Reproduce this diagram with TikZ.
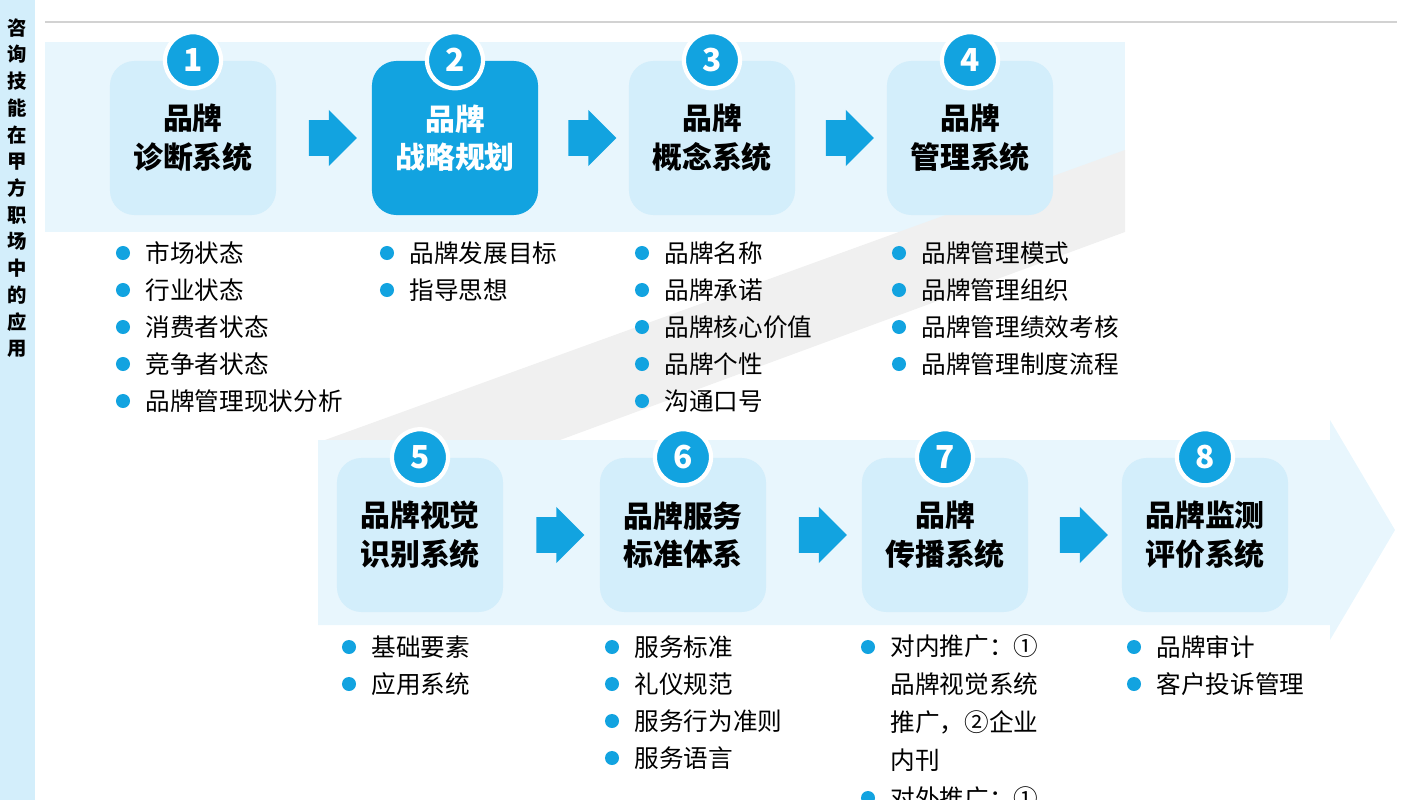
\documentclass[tikz,border=0pt]{standalone}
\usepackage{fontspec}
\setmainfont{Noto Sans CJK SC}
\usetikzlibrary{shapes.arrows, calc}
\definecolor{brandblue}{HTML}{12A3E0}
\definecolor{boxlight}{HTML}{D3EEFB}
\definecolor{bandlight}{HTML}{E8F6FD}

\tikzset{
  stage/.style={rounded corners=7pt, fill=boxlight, minimum width=1.66cm, minimum height=1.54cm,
    align=center, font=\fontsize{8.5}{11}\selectfont\bfseries, inner sep=0pt},
  stagedark/.style={stage, fill=brandblue, text=white},
  num/.style={circle, fill=brandblue, draw=white, line width=1.2pt, minimum size=0.56cm,
    text=white, font=\fontsize{9}{9}\selectfont\bfseries, inner sep=0pt},
  go/.style={single arrow, fill=brandblue, minimum height=0.48cm, minimum width=0.56cm,
    single arrow head extend=0.1cm, inner sep=0pt, text height=0.34cm, text width=0.18cm},
  item/.style={anchor=west, font=\fontsize{7}{9}\selectfont, inner sep=0pt},
  dot/.style={circle, fill=brandblue, minimum size=0.14cm, inner sep=0pt},
}

\begin{document}
\begin{tikzpicture}[x=0.01cm, y=-0.01cm]
\useasboundingbox (0,0) rectangle (1423,800);
\clip (0,0) rectangle (1423,800);

% side strip and top rule
\fill[boxlight] (0,0) rectangle (35,800);
\node[font=\fontsize{5.5}{7.6}\selectfont\bfseries, align=center, anchor=north] (side) at (17,6)
  {咨\\询\\技\\能\\在\\甲\\方\\职\\场\\中\\的\\应\\用};
\draw[gray!35, line width=0.6pt] (45,22) -- (1397,22);

% bands
\fill[bandlight] (45,42) rectangle (1125,232);
\fill[gray!12] (325,440) -- (560,440) -- (1125,232) -- (1125,150) -- cycle;
\fill[bandlight] (318,440) -- (1330,440) -- (1330,420) -- (1395,530) -- (1330,640) -- (1330,625) -- (318,625) -- cycle;

% top row
\node[stage] (s1) at (193,138) {品牌\\诊断系统};
\node[stagedark] (s2) at (455,138) {品牌\\战略规划};
\node[stage] (s3) at (712,138) {品牌\\概念系统};
\node[stage] (s4) at (970,138) {品牌\\管理系统};
% bottom row
\node[stage] (s5) at (420,535) {品牌视觉\\识别系统};
\node[stage] (s6) at (683,535) {品牌服务\\标准体系};
\node[stage] (s7) at (945,535) {品牌\\传播系统};
\node[stage] (s8) at (1205,535) {品牌监测\\评价系统};

\foreach \i in {1,...,8}
  \node[num] (n\i) at (s\i.north) {\i};

\foreach \a/\b in {s1/s2, s2/s3, s3/s4, s5/s6, s6/s7, s7/s8}
  \node[go] at ($(\a.east)!0.5!(\b.west)$) {};

% bullet lists
\foreach \x/\list in {123/{市场状态,行业状态,消费者状态,竞争者状态,品牌管理现状分析},
                     387/{品牌发展目标,指导思想},
                     642/{品牌名称,品牌承诺,品牌核心价值,品牌个性,沟通口号},
                     899/{品牌管理模式,品牌管理组织,品牌管理绩效考核,品牌管理制度流程}}{
  \foreach \t [count=\k] in \list {
    \node[dot] at (\x,216+37*\k) {};
    \node[item] at (\x+22,216+37*\k) {\t};
  }
}
\foreach \x/\list in {349/{基础要素,应用系统},
                     612/{服务标准,礼仪规范,服务行为准则,服务语言},
                     1134/{品牌审计,客户投诉管理}}{
  \foreach \t [count=\k] in \list {
    \node[dot] at (\x,610+37*\k) {};
    \node[item] at (\x+22,610+37*\k) {\t};
  }
}
\node[dot] at (868,647) {};
\node[item, anchor=north west, align=left, font=\fontsize{7}{10.8}\selectfont] (t7) at (890,634)
  {对内推广：①\\品牌视觉系统\\推广，②企业\\内刊};
\node[dot] at (868,798) {};
\node[item] at (890,798) {对外推广：①};
\end{tikzpicture}
\end{document}
